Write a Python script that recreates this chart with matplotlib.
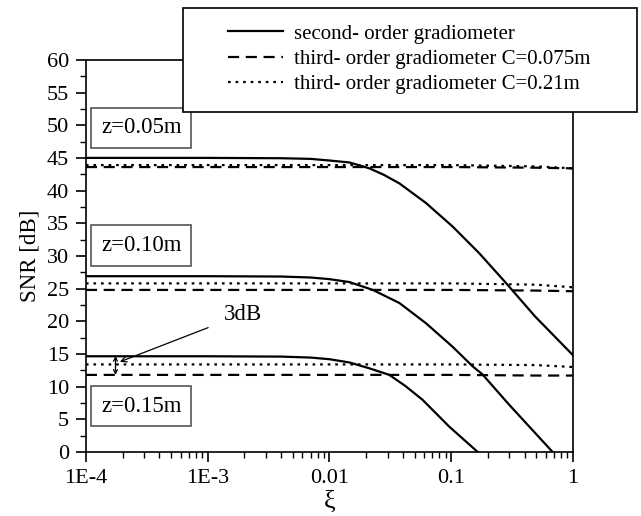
import matplotlib
matplotlib.use("Agg")
import matplotlib.pyplot as plt
from matplotlib.patches import Rectangle
from matplotlib.ticker import FixedLocator, MultipleLocator, LogLocator, NullFormatter

plt.rcParams['font.family'] = ['Liberation Serif', 'DejaVu Serif']

# second-order gradiometer
xi_top = [1e-4, 1e-3, 4e-3, 0.007, 0.01, 0.0146, 0.0213, 0.028, 0.0375, 0.062, 0.1026, 0.17, 0.28, 0.49, 1.0]
snr_top = [45.0, 45.0, 44.95, 44.85, 44.6, 44.3, 43.4, 42.4, 41.1, 38.1, 34.5, 30.4, 25.9, 20.7, 14.8]
xi_mid = [1e-4, 1e-3, 4e-3, 0.007, 0.01, 0.0146, 0.0227, 0.0375, 0.062, 0.1026, 0.15, 0.18, 0.30, 0.68]
snr_mid = [26.9, 26.9, 26.85, 26.7, 26.45, 26.0, 24.8, 22.8, 19.7, 16.1, 13.1, 11.9, 7.2, 0.0]
xi_bot = [1e-4, 1e-3, 4e-3, 0.007, 0.01, 0.0146, 0.0213, 0.031, 0.042, 0.058, 0.096, 0.165]
snr_bot = [14.65, 14.65, 14.6, 14.45, 14.2, 13.7, 12.8, 11.8, 10.1, 8.0, 3.9, 0.0]

# third-order gradiometers
xi_3 = [1e-4, 0.1, 0.5, 1.0]
c075_top = [43.6, 43.6, 43.5, 43.4]
c075_mid = [24.8, 24.8, 24.7, 24.6]
c075_bot = [11.8, 11.8, 11.7, 11.7]
c021_top = [43.9, 43.9, 43.7, 43.4]
c021_mid = [25.8, 25.8, 25.6, 25.2]
c021_bot = [13.4, 13.4, 13.3, 13.0]

labels = ["second- order gradiometer",
          "third- order gradiometer C=0.075m",
          "third- order gradiometer C=0.21m"]
z_labels = ["z=0.05m", "z=0.10m", "z=0.15m"]
z_label_y = [49.6, 31.6, 7.0]

fig = plt.figure(figsize=(6.41, 5.16), dpi=100)
ax = fig.add_axes([0.134, 0.124, 0.76, 0.76])

lw = 1.6
dash = (0, (5, 3))
dot = (0, (1.2, 2.2))
l1, = ax.plot(xi_top, snr_top, color='black', lw=lw, label=labels[0])
ax.plot(xi_mid, snr_mid, color='black', lw=lw)
ax.plot(xi_bot, snr_bot, color='black', lw=lw)
l2, = ax.plot(xi_3, c075_top, color='black', lw=lw, ls=dash, label=labels[1])
ax.plot(xi_3, c075_mid, color='black', lw=lw, ls=dash)
ax.plot(xi_3, c075_bot, color='black', lw=lw, ls=dash)
l3, = ax.plot(xi_3, c021_top, color='black', lw=lw, ls=dot, label=labels[2])
ax.plot(xi_3, c021_mid, color='black', lw=lw, ls=dot)
ax.plot(xi_3, c021_bot, color='black', lw=lw, ls=dot)

ax.set_xscale('log')
ax.set_xlim(1e-4, 1)
ax.set_ylim(0, 60)
ax.xaxis.set_major_locator(FixedLocator([1e-4, 1e-3, 1e-2, 1e-1, 1]))
ax.set_xticklabels(["1E-4", "1E-3", "0.01", "0.1", "1"])
ax.xaxis.set_minor_locator(LogLocator(base=10, subs=range(2, 10)))
ax.xaxis.set_minor_formatter(NullFormatter())
ax.yaxis.set_major_locator(MultipleLocator(5))
ax.yaxis.set_minor_locator(MultipleLocator(2.5))
ax.tick_params(which='major', direction='out', length=7, width=1.2, labelsize=16, pad=5)
ax.tick_params(which='minor', direction='out', length=4, width=1.0)
for s in ax.spines.values():
    s.set_linewidth(1.2)

ax.set_xlabel("ξ", fontsize=19, labelpad=2)
ax.set_ylabel("SNR [dB]", fontsize=16.5, labelpad=5)

for t, y in zip(z_labels, z_label_y):
    ax.text(1.33e-4, y, t, fontsize=16.5, va='center', ha='left',
            bbox=dict(boxstyle='square,pad=0.42', fc='white', ec='#555555', lw=1.2))

# 3dB marker
ax.annotate("", xy=(1.75e-4, 11.8), xytext=(1.75e-4, 14.7),
            arrowprops=dict(arrowstyle='<->', color='black', lw=0.9,
                            mutation_scale=7, shrinkA=0, shrinkB=0))
ax.annotate("3dB", xy=(1.9e-4, 13.8), xytext=(1.95e-3, 21.1), fontsize=16.5,
            ha='center', va='center',
            arrowprops=dict(arrowstyle='->', color='black', lw=0.9,
                            mutation_scale=10, shrinkA=10, shrinkB=0))

# legend box drawn in figure pixels
W, H = 641, 516
fig.patches.append(Rectangle((183 / W, 1 - 112 / H), 454 / W, 104 / H,
                             transform=fig.transFigure, fc='white', ec='black',
                             lw=1.2, zorder=3))
leg = fig.legend(handles=[l1, l2, l3], loc='upper left',
                 bbox_to_anchor=(228 / W, 1 - 24 / H), fontsize=15,
                 frameon=False, handlelength=2.65, handletextpad=0.5,
                 borderpad=0, labelspacing=0.28, borderaxespad=0)
leg.set_zorder(5)

fig.savefig("out.png", dpi=100)
